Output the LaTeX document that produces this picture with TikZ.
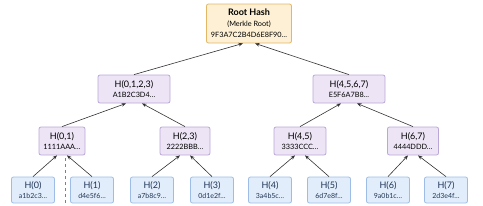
\documentclass[tikz,border=0pt]{standalone}
\usepackage{fontspec}
\setmainfont{Lato}
\usetikzlibrary{arrows.meta}

\definecolor{rootfill}{HTML}{FDF0D4}
\definecolor{rootdraw}{HTML}{E2B766}
\definecolor{midfill}{HTML}{EDE5F6}
\definecolor{middraw}{HTML}{BBA6D8}
\definecolor{leaffill}{HTML}{E2EDFB}
\definecolor{leafdraw}{HTML}{9EBDE6}
\definecolor{leaftext}{HTML}{1F3556}
\definecolor{linegray}{HTML}{333333}

\begin{document}
\begin{tikzpicture}[
	x=1pt, y=-1pt,
	rootbox/.style={draw=rootdraw, fill=rootfill, line width=0.8pt, rounded corners=2pt, minimum width=85pt, minimum height=39pt, inner sep=0pt, align=center, font=\fontsize{7.3}{11}\selectfont},
	midbox/.style={draw=middraw, fill=midfill, line width=0.8pt, rounded corners=2pt, minimum height=28pt, inner sep=0pt, align=center, font=\fontsize{7.3}{10}\selectfont},
	leafbox/.style={draw=leafdraw, fill=leaffill, line width=0.8pt, rounded corners=2pt, minimum width=43pt, minimum height=26pt, inner sep=0pt, align=center, text=leaftext, font=\fontsize{7}{10}\selectfont},
	hashlink/.style={-{Stealth[length=4.5pt, width=3.5pt]}, draw=linegray, line width=0.6pt},
	big/.style={font=\fontsize{9}{11}\selectfont}
	]
	
	\useasboundingbox (0,0) rectangle (483,206);
	
	% ======================
	% Wurzel
	% ======================
	\node[rootbox] (root) at (249,23.5) {{\fontsize{9}{11}\selectfont\textbf{Root Hash}}\\(Merkle Root)\\9F3A7C2B4D6E8F90\ldots};
	
	% ======================
	% Ebene 1
	% ======================
	\node[midbox, minimum width=72pt] (h0123) at (134,89) {{\fontsize{9}{10}\selectfont H(0,1,2,3)}\\A1B2C3D4\ldots};
	\node[midbox, minimum width=72pt] (h4567) at (349,89) {{\fontsize{9}{10}\selectfont H(4,5,6,7)}\\E5F6A7B8\ldots};
	
	% ======================
	% Ebene 2
	% ======================
	\node[midbox, minimum width=46pt] (h01) at (62,141) {{\fontsize{9}{10}\selectfont H(0,1)}\\1111AAA\ldots};
	\node[midbox, minimum width=50pt] (h23) at (185,141) {{\fontsize{9}{10}\selectfont H(2,3)}\\2222BBB\ldots};
	\node[midbox, minimum width=52pt] (h45) at (300,141) {{\fontsize{9}{10}\selectfont H(4,5)}\\3333CCC\ldots};
	\node[midbox, minimum width=51pt] (h67) at (413,141) {{\fontsize{9}{10}\selectfont H(6,7)}\\4444DDD\ldots};
	
	% ======================
	% Blaetter
	% ======================
	\node[leafbox] (h0) at (33,190) {{\fontsize{9}{10}\selectfont H(0)}\\a1b2c3\ldots};
	\node[leafbox] (h1) at (92,190) {{\fontsize{9}{10}\selectfont H(1)}\\d4e5f6\ldots};
	\node[leafbox] (h2) at (152,190) {{\fontsize{9}{10}\selectfont H(2)}\\a7b8c9\ldots};
	\node[leafbox] (h3) at (212,190) {{\fontsize{9}{10}\selectfont H(3)}\\0d1e2f\ldots};
	\node[leafbox] (h4) at (270,190) {{\fontsize{9}{10}\selectfont H(4)}\\3a4b5c\ldots};
	\node[leafbox] (h5) at (329,190) {{\fontsize{9}{10}\selectfont H(5)}\\6d7e8f\ldots};
	\node[leafbox] (h6) at (388,190) {{\fontsize{9}{10}\selectfont H(6)}\\9a0b1c\ldots};
	\node[leafbox] (h7) at (446,190) {{\fontsize{9}{10}\selectfont H(7)}\\2d3e4f\ldots};
	
	% Verbindungen (Kind -> Eltern)
	\draw[hashlink] (h0123.north) -- ([xshift=-6pt]root.south);
	\draw[hashlink] (h4567.north) -- ([xshift=6pt]root.south);
	
	\draw[hashlink] (h01.north) -- ([xshift=-8pt]h0123.south);
	\draw[hashlink] (h23.north) -- ([xshift=8pt]h0123.south);
	\draw[hashlink] (h45.north) -- ([xshift=-8pt]h4567.south);
	\draw[hashlink] (h67.north) -- ([xshift=8pt]h4567.south);
	
	\draw[hashlink] (h0.north) -- ([xshift=-5pt]h01.south);
	\draw[hashlink] (h1.north) -- ([xshift=5pt]h01.south);
	\draw[hashlink] (h2.north) -- ([xshift=-5pt]h23.south);
	\draw[hashlink] (h3.north) -- ([xshift=5pt]h23.south);
	\draw[hashlink] (h4.north) -- ([xshift=-5pt]h45.south);
	\draw[hashlink] (h5.north) -- ([xshift=5pt]h45.south);
	\draw[hashlink] (h6.north) -- ([xshift=-5pt]h67.south);
	\draw[hashlink] (h7.north) -- ([xshift=5pt]h67.south);
	
	% gestrichelte Linie unter H(0,1)
	\coordinate (dashend) at (65,206);
	\draw[dashed, draw=gray, line width=0.5pt] ([xshift=3pt, yshift=-3pt]h01.south) -- (dashend);
	
\end{tikzpicture}
\end{document}
